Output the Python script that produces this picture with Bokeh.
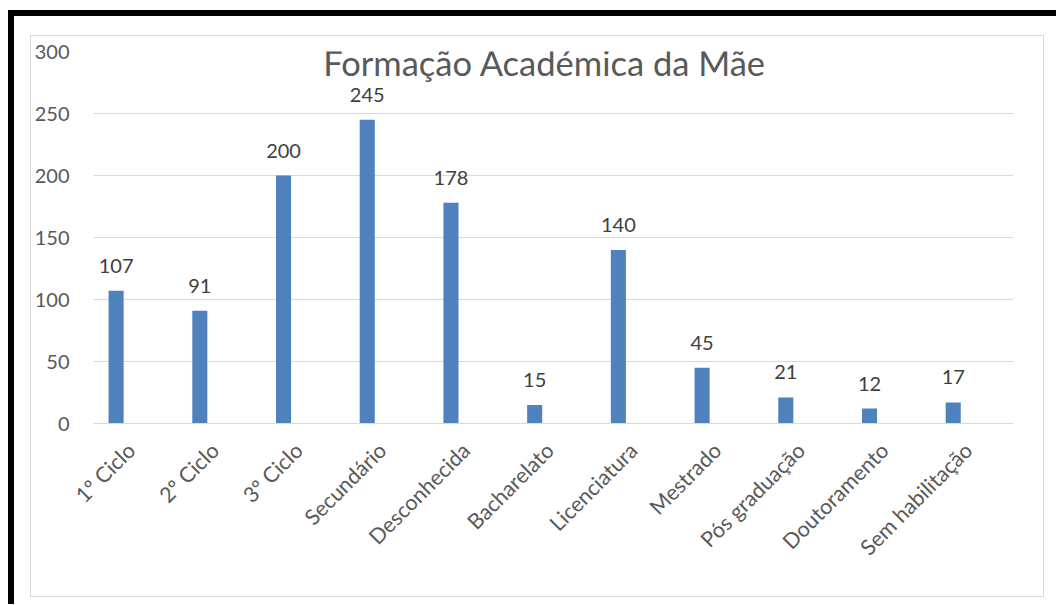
import math
from bokeh.plotting import figure
from bokeh.models import ColumnDataSource, FixedTicker, Range1d, Label
from bokeh.layouts import column
from bokeh.embed import file_html
from bokeh.resources import INLINE
from bokeh.core.properties import value

# ---- data ----
categories = ["1º Ciclo", "2º Ciclo", "3º Ciclo", "Secundário", "Desconhecida",
              "Bacharelato", "Licenciatura", "Mestrado", "Pós graduação",
              "Doutoramento", "Sem habilitação"]
counts = [107, 91, 200, 245, 178, 15, 140, 45, 21, 12, 17]
y_ticks = [0, 50, 100, 150, 200, 250, 300]
title_text = "Formação Académica da Mãe"

# ---- style ----
FONT = "Lato"
BAR_COLOR = "#4F81BD"
GRID = "#D9D9D9"
TXT = "#595959"
LBL = "#404040"
LABEL_SHIFT = 0.18

xs = list(range(1, len(categories) + 1))
src = ColumnDataSource(dict(x=xs, top=counts, label=[str(c) for c in counts]))

p = figure(width=1012, height=560, x_range=Range1d(0.73, 11.72), y_range=Range1d(0, 300),
           output_backend="svg", toolbar_location=None,
           min_border_left=62, min_border_right=30, min_border_top=15, min_border_bottom=173,
           background_fill_color="white", border_fill_color="white", outline_line_color=None)

p.vbar(x="x", top="top", width=0.18, bottom=0, source=src, fill_color=BAR_COLOR, line_color=None)
p.text(x="x", y="top", text="label", source=src, text_align="center", text_baseline="middle",
       y_offset=-25, text_font=value(FONT), text_font_size="20px", text_color=LBL)

ticks = [x + LABEL_SHIFT for x in xs]
p.xaxis.ticker = FixedTicker(ticks=ticks)
p.xaxis.major_label_overrides = {t: c for t, c in zip(ticks, categories)}
p.xaxis.major_label_orientation = math.pi / 4
p.xaxis.axis_line_color = GRID
p.xaxis.major_tick_line_color = None
p.xaxis.minor_tick_line_color = None
p.xaxis.major_tick_out = 0
p.xaxis.major_tick_in = 0
p.xaxis.major_label_text_font = FONT
p.xaxis.major_label_text_font_size = "21.5px"
p.xaxis.major_label_text_color = TXT
p.xaxis.major_label_standoff = 23

p.yaxis.ticker = FixedTicker(ticks=y_ticks)
p.yaxis.axis_line_color = None
p.yaxis.major_tick_line_color = None
p.yaxis.minor_tick_line_color = None
p.yaxis.major_tick_out = 0
p.yaxis.major_tick_in = 0
p.yaxis.major_label_standoff = 24
p.yaxis.major_label_text_font = FONT
p.yaxis.major_label_text_font_size = "20px"
p.yaxis.major_label_text_color = TXT

p.xgrid.grid_line_color = None
p.ygrid.ticker = FixedTicker(ticks=y_ticks)
p.ygrid.grid_line_color = GRID
p.ygrid.grid_line_width = 1

p.add_layout(Label(x=6.12, y=290.8, text=title_text, text_align="center", text_baseline="middle",
                   text_font=FONT, text_font_size="34.5px", text_color=TXT))

inner = column(p, styles={"border": "1px solid #D9D9D9"})
outer = column(inner, styles={"border-top": "6px solid black", "border-left": "6px solid black",
                              "margin-top": "10px", "margin-left": "8px",
                              "padding-top": "19px", "padding-left": "16px",
                              "padding-right": "12px", "padding-bottom": "7px"})

open("out.html", "w").write(file_html(outer, INLINE))
